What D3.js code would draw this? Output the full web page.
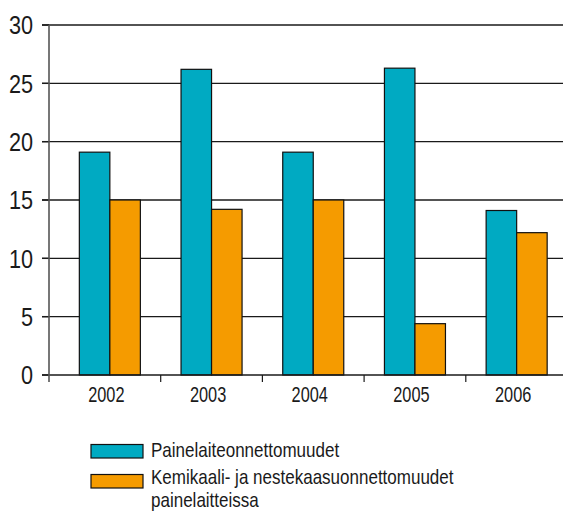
<!DOCTYPE html>
<html><head><meta charset="utf-8">
<script src="https://cdn.jsdelivr.net/npm/d3@7/dist/d3.min.js"></script>
<style>
body{margin:0;background:#fff;}
svg{display:block;}
text{font-family:"Liberation Sans",Arial,sans-serif;fill:#1a1a1a;}
</style></head>
<body>
<svg id="chart" width="563" height="513"></svg>
<script>
const years = ["2002","2003","2004","2005","2006"];
const seriesNames = ["Painelaiteonnettomuudet","Kemikaali- ja nestekaasuonnettomuudet painelaitteissa"];
const painelaite = [19.1, 26.2, 19.1, 26.3, 14.1];
const kemikaali = [15.0, 14.2, 15.0, 4.4, 12.2];
const yTicks = [0,5,10,15,20,25,30];
const colors = ["#00aac2","#f59b00"];

(function(){
const svg = d3.select("#chart");
const axisX = 49, plotBottom = 375, plotTop = 25;
const y = d3.scaleLinear().domain([0,30]).range([plotBottom, plotTop]);
const x0 = d3.scaleBand().domain(years).range([59, 567.5]).paddingInner(0.4).paddingOuter(0.2);
const x1 = d3.scaleBand().domain([0,1]).range([0, x0.bandwidth()]);
const step = x0.step();

// gridlines
svg.append("g").selectAll("line").data(yTicks.filter(d=>d>0)).join("line")
  .attr("x1", 42).attr("x2", 563).attr("y1", d=>y(d)).attr("y2", d=>y(d))
  .attr("stroke", "#1a1a1a").attr("stroke-width", 1.4);

// y tick marks + labels
svg.append("g").selectAll("line").data(yTicks).join("line")
  .attr("x1", 42).attr("x2", axisX).attr("y1", d=>y(d)).attr("y2", d=>y(d))
  .attr("stroke", "#1a1a1a").attr("stroke-width", 1.4);
svg.append("g").selectAll("text").data(yTicks).join("text")
  .attr("transform", d=>`translate(33,${y(d)}) scale(0.85,1)`).attr("dy","0.36em")
  .attr("text-anchor","end").style("font-size","25.5px").text(d=>d);

// bars
const data = years.map((yr,i)=>({yr, vals:[painelaite[i], kemikaali[i]]}));
const g = svg.append("g").selectAll("g").data(data).join("g")
  .attr("transform", d=>`translate(${x0(d.yr)},0)`);
g.selectAll("rect").data(d=>d.vals.map((v,k)=>({v,k}))).join("rect")
  .attr("x", d=>x1(d.k)).attr("width", x1.bandwidth())
  .attr("y", d=>y(d.v)).attr("height", d=>plotBottom - y(d.v))
  .attr("fill", d=>colors[d.k]).attr("stroke","#111").attr("stroke-width",1.2);

// x axis line
svg.append("line").attr("x1",42).attr("x2",563).attr("y1",plotBottom).attr("y2",plotBottom)
  .attr("stroke","#1a1a1a").attr("stroke-width",1.4);
// y axis line
svg.append("line").attr("x1",axisX).attr("x2",axisX).attr("y1",plotTop).attr("y2",382)
  .attr("stroke","#555").attr("stroke-width",1.6);
// x tick marks between categories
svg.append("g").selectAll("line").data(years.slice(1)).join("line")
  .attr("x1", d=>x0(d) - step*x0.paddingInner()/2).attr("x2", d=>x0(d) - step*x0.paddingInner()/2)
  .attr("y1", plotBottom).attr("y2", 382).attr("stroke","#1a1a1a").attr("stroke-width",1.2);
// x labels
svg.append("g").selectAll("text").data(years).join("text")
  .attr("transform", d=>`translate(${x0(d) + x0.bandwidth()/2 - 3.5},401.5) scale(0.76,1)`)
  .attr("text-anchor","middle").style("font-size","21.5px").text(d=>d);

// legend
const leg = svg.append("g");
const legY = [444.5, 474.5];
leg.selectAll("rect").data(seriesNames).join("rect")
  .attr("x", 91).attr("y", (d,i)=>legY[i]).attr("width", 52).attr("height", 13.5)
  .attr("fill", (d,i)=>colors[i]).attr("stroke","#111").attr("stroke-width",1.2);
const legLines = [["Painelaiteonnettomuudet"],["Kemikaali- ja nestekaasuonnettomuudet","painelaitteissa"]];
const lt = leg.selectAll("text").data(legLines).join("text")
  .attr("transform", (d,i)=>`translate(151,${[457,483.5][i]}) scale(0.83,1)`).style("font-size","20.5px");
lt.selectAll("tspan").data(d=>d).join("tspan")
  .attr("x",0).attr("dy",(d,i)=>i===0?0:23.5).text(d=>d);
})();
</script>
</body></html>
